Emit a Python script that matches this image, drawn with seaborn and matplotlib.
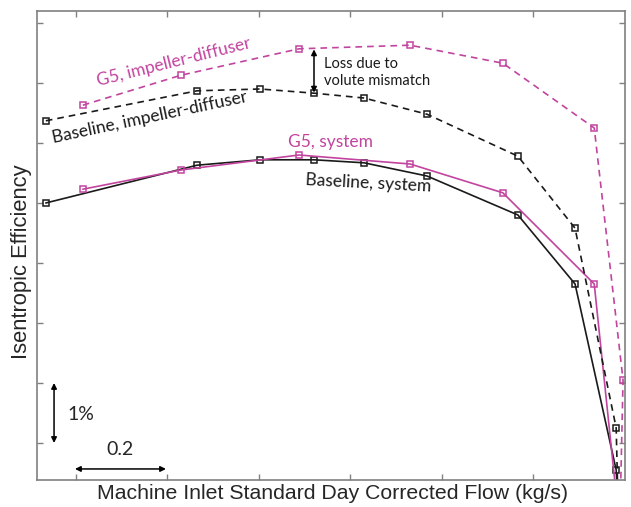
import numpy as np
import pandas as pd
import matplotlib
matplotlib.use("Agg")
import matplotlib.pyplot as plt
import seaborn as sns

# ---- data (flow in kg/s, efficiency in %) ----
base_x = [0.134, 0.465, 0.603, 0.721, 0.830, 0.968, 1.167, 1.292, 1.382, 1.386]
base_sys = [76.00, 76.63, 76.72, 76.72, 76.67, 76.45, 75.80, 74.65, 71.55, 71.00]
base_id_x = [0.134, 0.465, 0.603, 0.721, 0.830, 0.968, 1.167, 1.292, 1.382, 1.386]
base_id = [77.37, 77.87, 77.90, 77.83, 77.75, 77.48, 76.78, 75.58, 72.25, 71.00]
g5_x = [0.215, 0.430, 0.688, 0.931, 1.134, 1.334, 1.384]
g5_sys = [76.23, 76.55, 76.80, 76.65, 76.17, 74.65, 71.00]
g5_id_x = [0.215, 0.430, 0.688, 0.931, 1.134, 1.334, 1.397, 1.391]
g5_id = [77.63, 78.13, 78.57, 78.63, 78.33, 77.25, 73.05, 71.00]

x_ticks = [0.2, 0.4, 0.6, 0.8, 1.0, 1.2]
y_ticks = [72, 73, 74, 75, 76, 77, 78, 79]

MAG = "#c2449f"
BLK = "#1a1a1a"

sns.set_style("ticks")
plt.rcParams["font.family"] = ["Liberation Sans", "DejaVu Sans"]

fig = plt.figure(figsize=(6.31, 5.07), dpi=100)
ax = fig.add_axes([37 / 631, 27 / 507, 588 / 631, 469 / 507])

def draw(x, y, color, ls):
    sns.lineplot(x=x, y=y, color=color, linestyle=ls, marker="s", markersize=5,
                 markerfacecolor="none", markeredgecolor=color, markeredgewidth=1.1,
                 sort=False, estimator=None, lw=1.2, ax=ax)

draw(base_x, base_sys, BLK, "-")
draw(g5_x, g5_sys, MAG, "-")
draw(base_id_x, base_id, BLK, (0, (4, 3)))
draw(g5_id_x, g5_id, MAG, (0, (4, 3)))

ax.set_xlim(0.1147, 1.4013)
ax.set_ylim(71.383, 79.2)
ax.set_xticks(x_ticks)
ax.set_yticks(y_ticks)
ax.set_xticklabels([])
ax.set_yticklabels([])
ax.tick_params(direction="in", length=4, width=1, color="#808080",
               top=True, right=True)
for s in ax.spines.values():
    s.set_color("#808080")
    s.set_linewidth(1.2)

ax.set_xlabel("Machine Inlet Standard Day Corrected Flow (kg/s)", fontsize=15.3)
ax.set_ylabel("Isentropic Efficiency", fontsize=15.8)
ax.xaxis.set_label_coords(0.503, -0.008)
ax.yaxis.set_label_coords(-0.009, 0.465)

tf = ["Lato", "DejaVu Sans"]
ax.text(0.414, 78.35, "G5, impeller-diffuser", color=MAG, fontsize=12.5, family=tf,
        rotation=14, ha="center", va="center", rotation_mode="anchor")
ax.text(0.362, 77.42, "Baseline, impeller-diffuser", color=BLK, fontsize=12.5, family=tf,
        rotation=12, ha="center", va="center", rotation_mode="anchor")
ax.text(0.758, 77.02, "G5, system", color=MAG, fontsize=12.5, family=tf,
        ha="center", va="center")
ax.text(0.839, 76.33, "Baseline, system", color=BLK, fontsize=12.5, family=tf,
        rotation=-3, ha="center", va="center", rotation_mode="anchor")

# loss annotation
ax.annotate("", xy=(0.7208, 78.56), xytext=(0.7208, 77.84),
            arrowprops=dict(arrowstyle="<|-|>", color="black", lw=1.1,
                            mutation_scale=8, shrinkA=0, shrinkB=0))
ax.text(0.743, 78.17, "Loss due to\nvolute mismatch", color=BLK, fontsize=10.5,
        family=tf, ha="left", va="center", linespacing=1.25)

# scale indicators
ax.annotate("", xy=(0.152, 73.0), xytext=(0.152, 72.0),
            arrowprops=dict(arrowstyle="<|-|>", color="black", lw=1.1,
                            mutation_scale=8, shrinkA=0, shrinkB=0))
ax.text(0.181, 72.48, "1%", fontsize=14, family=tf, ha="left", va="center")
ax.annotate("", xy=(0.1978, 71.567), xytext=(0.3969, 71.567),
            arrowprops=dict(arrowstyle="<|-|>", color="black", lw=1.1,
                            mutation_scale=8, shrinkA=0, shrinkB=0))
ax.text(0.296, 71.89, "0.2", fontsize=14, family=tf, ha="center", va="center")

fig.savefig("out.png", dpi=100)
